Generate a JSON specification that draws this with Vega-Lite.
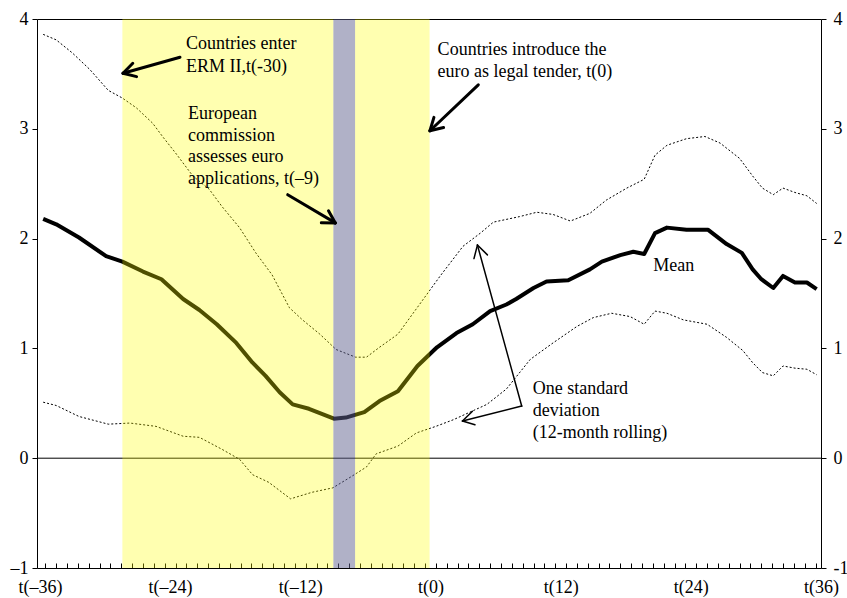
{
  "$schema": "https://vega.github.io/schema/vega-lite/v6.json",
  "width": 784,
  "height": 549,
  "autosize": {"type": "none"},
  "padding": {"left": 37, "top": 19, "right": 26, "bottom": 30},
  "background": "white",
  "config": {
    "view": {"stroke": "black", "strokeWidth": 1},
    "font": "Liberation Serif",
    "axis": {"grid": false, "domain": false, "labelFont": "Liberation Serif", "labelFontSize": 18, "labelColor": "black", "tickColor": "black", "title": null}
  },
  "datasets": {
    "series": [
      {"s": "mean", "t": -35.7, "v": 2.18}, {"s": "mean", "t": -34.5, "v": 2.13}, {"s": "mean", "t": -32.4, "v": 2.01}, {"s": "mean", "t": -29.9, "v": 1.84}, {"s": "mean", "t": -28.4, "v": 1.79}, {"s": "mean", "t": -26.5, "v": 1.70}, {"s": "mean", "t": -24.8, "v": 1.63}, {"s": "mean", "t": -22.8, "v": 1.45}, {"s": "mean", "t": -21.3, "v": 1.35}, {"s": "mean", "t": -19.7, "v": 1.22}, {"s": "mean", "t": -17.9, "v": 1.05}, {"s": "mean", "t": -16.4, "v": 0.87}, {"s": "mean", "t": -15.2, "v": 0.75}, {"s": "mean", "t": -13.9, "v": 0.60}, {"s": "mean", "t": -12.7, "v": 0.49}, {"s": "mean", "t": -11.2, "v": 0.45}, {"s": "mean", "t": -9.9, "v": 0.40}, {"s": "mean", "t": -8.9, "v": 0.36}, {"s": "mean", "t": -7.8, "v": 0.37}, {"s": "mean", "t": -6.1, "v": 0.42}, {"s": "mean", "t": -4.7, "v": 0.52}, {"s": "mean", "t": -3.0, "v": 0.61}, {"s": "mean", "t": -1.2, "v": 0.84}, {"s": "mean", "t": 0.6, "v": 1.01}, {"s": "mean", "t": 2.4, "v": 1.14}, {"s": "mean", "t": 3.9, "v": 1.22}, {"s": "mean", "t": 5.5, "v": 1.34}, {"s": "mean", "t": 7.0, "v": 1.40}, {"s": "mean", "t": 7.9, "v": 1.45}, {"s": "mean", "t": 9.5, "v": 1.55}, {"s": "mean", "t": 10.7, "v": 1.61}, {"s": "mean", "t": 12.7, "v": 1.62}, {"s": "mean", "t": 14.7, "v": 1.72}, {"s": "mean", "t": 15.8, "v": 1.79}, {"s": "mean", "t": 17.5, "v": 1.85}, {"s": "mean", "t": 18.7, "v": 1.88}, {"s": "mean", "t": 19.7, "v": 1.86}, {"s": "mean", "t": 20.7, "v": 2.05}, {"s": "mean", "t": 21.8, "v": 2.10}, {"s": "mean", "t": 23.6, "v": 2.08}, {"s": "mean", "t": 25.6, "v": 2.08}, {"s": "mean", "t": 27.3, "v": 1.95}, {"s": "mean", "t": 28.7, "v": 1.87}, {"s": "mean", "t": 29.7, "v": 1.72}, {"s": "mean", "t": 30.5, "v": 1.63}, {"s": "mean", "t": 31.6, "v": 1.55}, {"s": "mean", "t": 32.5, "v": 1.66}, {"s": "mean", "t": 33.6, "v": 1.60}, {"s": "mean", "t": 34.7, "v": 1.60}, {"s": "mean", "t": 35.6, "v": 1.54},
      {"s": "upper", "t": -35.7, "v": 3.86}, {"s": "upper", "t": -34.5, "v": 3.81}, {"s": "upper", "t": -33.0, "v": 3.69}, {"s": "upper", "t": -31.4, "v": 3.54}, {"s": "upper", "t": -29.7, "v": 3.35}, {"s": "upper", "t": -28.4, "v": 3.28}, {"s": "upper", "t": -27.1, "v": 3.19}, {"s": "upper", "t": -25.6, "v": 3.05}, {"s": "upper", "t": -24.7, "v": 2.93}, {"s": "upper", "t": -23.5, "v": 2.78}, {"s": "upper", "t": -21.9, "v": 2.57}, {"s": "upper", "t": -20.4, "v": 2.45}, {"s": "upper", "t": -19.2, "v": 2.29}, {"s": "upper", "t": -17.6, "v": 2.10}, {"s": "upper", "t": -16.1, "v": 1.87}, {"s": "upper", "t": -14.6, "v": 1.67}, {"s": "upper", "t": -13.0, "v": 1.37}, {"s": "upper", "t": -11.8, "v": 1.26}, {"s": "upper", "t": -10.2, "v": 1.13}, {"s": "upper", "t": -8.7, "v": 0.99}, {"s": "upper", "t": -6.9, "v": 0.92}, {"s": "upper", "t": -5.9, "v": 0.92}, {"s": "upper", "t": -4.7, "v": 1.01}, {"s": "upper", "t": -3.0, "v": 1.13}, {"s": "upper", "t": -1.6, "v": 1.32}, {"s": "upper", "t": 0.9, "v": 1.66}, {"s": "upper", "t": 3.0, "v": 1.93}, {"s": "upper", "t": 4.6, "v": 2.05}, {"s": "upper", "t": 5.8, "v": 2.15}, {"s": "upper", "t": 8.2, "v": 2.20}, {"s": "upper", "t": 9.8, "v": 2.24}, {"s": "upper", "t": 11.3, "v": 2.22}, {"s": "upper", "t": 12.9, "v": 2.16}, {"s": "upper", "t": 14.7, "v": 2.23}, {"s": "upper", "t": 16.2, "v": 2.35}, {"s": "upper", "t": 18.1, "v": 2.46}, {"s": "upper", "t": 19.7, "v": 2.54}, {"s": "upper", "t": 20.7, "v": 2.76}, {"s": "upper", "t": 21.8, "v": 2.85}, {"s": "upper", "t": 23.6, "v": 2.91}, {"s": "upper", "t": 25.3, "v": 2.93}, {"s": "upper", "t": 26.7, "v": 2.87}, {"s": "upper", "t": 28.5, "v": 2.73}, {"s": "upper", "t": 29.7, "v": 2.57}, {"s": "upper", "t": 30.6, "v": 2.46}, {"s": "upper", "t": 31.6, "v": 2.40}, {"s": "upper", "t": 32.5, "v": 2.46}, {"s": "upper", "t": 33.6, "v": 2.42}, {"s": "upper", "t": 34.7, "v": 2.39}, {"s": "upper", "t": 35.6, "v": 2.32},
      {"s": "lower", "t": -35.7, "v": 0.51}, {"s": "lower", "t": -34.5, "v": 0.48}, {"s": "lower", "t": -32.4, "v": 0.38}, {"s": "lower", "t": -29.7, "v": 0.31}, {"s": "lower", "t": -27.7, "v": 0.32}, {"s": "lower", "t": -25.3, "v": 0.29}, {"s": "lower", "t": -22.8, "v": 0.20}, {"s": "lower", "t": -21.3, "v": 0.19}, {"s": "lower", "t": -19.2, "v": 0.08}, {"s": "lower", "t": -17.6, "v": -0.01}, {"s": "lower", "t": -16.4, "v": -0.15}, {"s": "lower", "t": -14.9, "v": -0.22}, {"s": "lower", "t": -12.9, "v": -0.37}, {"s": "lower", "t": -10.9, "v": -0.31}, {"s": "lower", "t": -9.0, "v": -0.27}, {"s": "lower", "t": -7.5, "v": -0.18}, {"s": "lower", "t": -5.9, "v": -0.08}, {"s": "lower", "t": -5.0, "v": 0.04}, {"s": "lower", "t": -3.0, "v": 0.11}, {"s": "lower", "t": -1.3, "v": 0.23}, {"s": "lower", "t": 0.5, "v": 0.29}, {"s": "lower", "t": 2.1, "v": 0.35}, {"s": "lower", "t": 5.2, "v": 0.49}, {"s": "lower", "t": 7.0, "v": 0.63}, {"s": "lower", "t": 9.2, "v": 0.90}, {"s": "lower", "t": 11.3, "v": 1.05}, {"s": "lower", "t": 13.5, "v": 1.20}, {"s": "lower", "t": 15.0, "v": 1.28}, {"s": "lower", "t": 16.7, "v": 1.32}, {"s": "lower", "t": 18.4, "v": 1.29}, {"s": "lower", "t": 19.7, "v": 1.22}, {"s": "lower", "t": 20.7, "v": 1.34}, {"s": "lower", "t": 21.8, "v": 1.32}, {"s": "lower", "t": 23.3, "v": 1.26}, {"s": "lower", "t": 25.5, "v": 1.22}, {"s": "lower", "t": 27.3, "v": 1.10}, {"s": "lower", "t": 28.8, "v": 0.98}, {"s": "lower", "t": 29.7, "v": 0.87}, {"s": "lower", "t": 30.6, "v": 0.78}, {"s": "lower", "t": 31.6, "v": 0.75}, {"s": "lower", "t": 32.5, "v": 0.84}, {"s": "lower", "t": 33.6, "v": 0.82}, {"s": "lower", "t": 34.7, "v": 0.81}, {"s": "lower", "t": 35.6, "v": 0.76}
    ],
    "bands": [
      {"kind": "ERM II", "start": -28.4, "end": -8.95},
      {"kind": "ERM II", "start": -6.95, "end": -0.08},
      {"kind": "Assessment", "start": -8.95, "end": -6.95}
    ],
    "arrows": [
      {"kind": "thick", "t1": -23.09, "v1": 3.652, "t2": -28.34, "v2": 3.506},
      {"kind": "thick", "t1": -28.34, "v1": 3.506, "t2": -27.09, "v2": 3.475},
      {"kind": "thick", "t1": -28.34, "v1": 3.506, "t2": -27.44, "v2": 3.597},
      {"kind": "thick", "t1": -13.16, "v1": 2.40, "t2": -8.77, "v2": 2.143},
      {"kind": "thick", "t1": -8.77, "v1": 2.143, "t2": -9.40, "v2": 2.254},
      {"kind": "thick", "t1": -8.77, "v1": 2.143, "t2": -10.06, "v2": 2.145},
      {"kind": "thick", "t1": 4.41, "v1": 3.40, "t2": -0.05, "v2": 2.982},
      {"kind": "thick", "t1": -0.05, "v1": 2.982, "t2": 1.21, "v2": 3.012},
      {"kind": "thick", "t1": -0.05, "v1": 2.982, "t2": 0.32, "v2": 3.104},
      {"kind": "thin", "t1": 8.41, "v1": 0.475, "t2": 4.33, "v2": 1.941},
      {"kind": "thin", "t1": 4.33, "v1": 1.941, "t2": 4.01, "v2": 1.818},
      {"kind": "thin", "t1": 4.33, "v1": 1.941, "t2": 5.25, "v2": 1.852},
      {"kind": "thin", "t1": 8.41, "v1": 0.475, "t2": 2.95, "v2": 0.339},
      {"kind": "thin", "t1": 2.95, "v1": 0.339, "t2": 4.10, "v2": 0.305},
      {"kind": "thin", "t1": 2.95, "v1": 0.339, "t2": 3.87, "v2": 0.428}
    ],
    "notes": [
      {"t": -22.53, "v": 3.725, "label": "Countries enter"},
      {"t": -22.53, "v": 3.521, "label": "ERM II,t(-30)"},
      {"t": -22.35, "v": 3.088, "label": "European"},
      {"t": -22.35, "v": 2.891, "label": "commission"},
      {"t": -22.35, "v": 2.694, "label": "assesses euro"},
      {"t": -22.35, "v": 2.497, "label": "applications, t(–9)"},
      {"t": 0.66, "v": 3.673, "label": "Countries introduce the"},
      {"t": 0.66, "v": 3.47, "label": "euro as legal tender, t(0)"},
      {"t": 20.53, "v": 1.703, "label": "Mean"},
      {"t": 9.42, "v": 0.582, "label": "One standard"},
      {"t": 9.42, "v": 0.385, "label": "deviation"},
      {"t": 9.42, "v": 0.188, "label": "(12-month rolling)"}
    ],
    "zero": [{"level": 0}]
  },
  "resolve": {"axis": {"x": "independent", "y": "independent"}},
  "layer": [
    {
      "data": {"name": "zero"},
      "mark": {"type": "rule", "color": "black", "strokeWidth": 1},
      "encoding": {
        "y": {"field": "level", "type": "quantitative", "scale": {"domain": [-1, 4], "nice": false, "zero": false}, "axis": null}
      }
    },
    {
      "data": {"name": "series"},
      "transform": [{"filter": "datum.s !== 'mean'"}],
      "mark": {"type": "line", "color": "black", "strokeWidth": 1, "strokeDash": [2, 2]},
      "encoding": {
        "x": {"field": "t", "type": "quantitative", "scale": {"domain": [-36.27, 36], "nice": false, "zero": false},
          "axis": {"orient": "bottom", "labels": false, "tickSize": -5, "tickWidth": 1,
            "values": [-35.5,-34.5,-33.5,-32.5,-31.5,-30.5,-29.5,-28.5,-27.5,-26.5,-25.5,-24.5,-23.5,-22.5,-21.5,-20.5,-19.5,-18.5,-17.5,-16.5,-15.5,-14.5,-13.5,-12.5,-11.5,-10.5,-9.5,-8.5,-7.5,-6.5,-5.5,-4.5,-3.5,-2.5,-1.5,-0.5,0.5,1.5,2.5,3.5,4.5,5.5,6.5,7.5,8.5,9.5,10.5,11.5,12.5,13.5,14.5,15.5,16.5,17.5,18.5,19.5,20.5,21.5,22.5,23.5,24.5,25.5,26.5,27.5,28.5,29.5,30.5,31.5,32.5,33.5,34.5,35.5]}},
        "y": {"field": "v", "type": "quantitative", "scale": {"domain": [-1, 4], "nice": false, "zero": false},
          "axis": {"orient": "right", "values": [-1, 0, 1, 2, 3, 4], "tickSize": 5, "labelPadding": 7, "labelBaseline": "middle",
            "labelExpr": "datum.value < 0 ? '-' + abs(datum.value) : '' + datum.value"}},
        "detail": {"field": "s"}
      }
    },
    {
      "data": {"name": "series"},
      "transform": [{"filter": "datum.s === 'mean'"}],
      "mark": {"type": "line", "color": "black", "strokeWidth": 4, "strokeJoin": "round"},
      "encoding": {
        "x": {"field": "t", "type": "quantitative", "scale": {"domain": [-36.27, 36], "nice": false, "zero": false},
          "axis": {"orient": "bottom", "ticks": false, "labelPadding": 10, "values": [-36, -24, -12, 0, 12, 24, 36],
            "labelFlush": false, "labelOverlap": false,
            "labelExpr": "'t(' + (datum.value < 0 ? '–' + (-datum.value) : datum.value) + ')'"}},
        "y": {"field": "v", "type": "quantitative", "scale": {"domain": [-1, 4], "nice": false, "zero": false},
          "axis": {"orient": "left", "values": [-1, 0, 1, 2, 3, 4], "tickSize": 5, "labelPadding": 4,
            "labelExpr": "datum.value < 0 ? '–' + abs(datum.value) : '' + datum.value"}}
      }
    },
    {
      "data": {"name": "bands"},
      "mark": {"type": "rect"},
      "encoding": {
        "x": {"field": "start", "type": "quantitative", "axis": null},
        "x2": {"field": "end"},
        "y": {"datum": -1, "type": "quantitative", "axis": null},
        "y2": {"datum": 4},
        "color": {"field": "kind", "type": "nominal", "scale": {"domain": ["ERM II", "Assessment"], "range": ["#ffff00", "#62648f"]}, "legend": null},
        "opacity": {"field": "kind", "type": "nominal", "scale": {"domain": ["ERM II", "Assessment"], "range": [0.31, 0.5]}, "legend": null}
      }
    },
    {
      "data": {"name": "arrows"},
      "transform": [{"filter": "datum.kind === 'thick'"}],
      "mark": {"type": "rule", "color": "black", "strokeWidth": 3, "strokeCap": "round"},
      "encoding": {
        "x": {"field": "t1", "type": "quantitative", "axis": null},
        "x2": {"field": "t2"},
        "y": {"field": "v1", "type": "quantitative", "axis": null},
        "y2": {"field": "v2"}
      }
    },
    {
      "data": {"name": "arrows"},
      "transform": [{"filter": "datum.kind === 'thin'"}],
      "mark": {"type": "rule", "color": "black", "strokeWidth": 1.5, "strokeCap": "round"},
      "encoding": {
        "x": {"field": "t1", "type": "quantitative", "axis": null},
        "x2": {"field": "t2"},
        "y": {"field": "v1", "type": "quantitative", "axis": null},
        "y2": {"field": "v2"}
      }
    },
    {
      "data": {"name": "notes"},
      "mark": {"type": "text", "align": "left", "baseline": "alphabetic", "font": "Liberation Serif", "fontSize": 18, "color": "black"},
      "encoding": {
        "x": {"field": "t", "type": "quantitative", "axis": null},
        "y": {"field": "v", "type": "quantitative", "axis": null},
        "text": {"field": "label"}
      }
    }
  ]
}
